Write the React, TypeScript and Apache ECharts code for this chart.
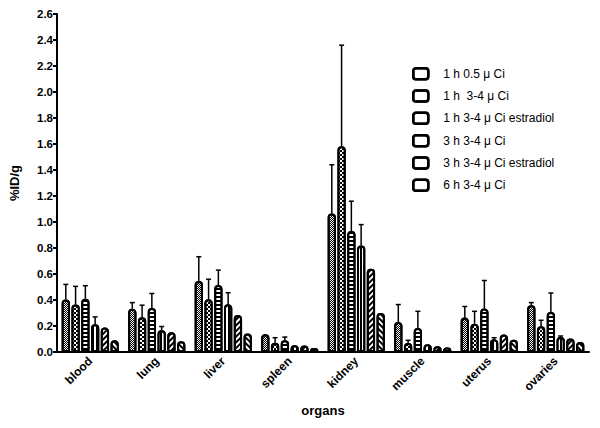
import React, { useEffect, useRef } from "react";
import * as echarts from "echarts";

const categories = ["blood", "lung", "liver", "spleen", "kidney", "muscle", "uterus", "ovaries"];
const seriesNames = [
  "1 h 0.5 μ Ci",
  "1 h  3-4 μ Ci",
  "1 h 3-4 μ Ci estradiol",
  "3 h 3-4 μ Ci",
  "3 h 3-4 μ Ci estradiol",
  "6 h 3-4 μ Ci",
];
const s0 = [0.403, 0.333, 0.546, 0.136, 1.065, 0.23, 0.265, 0.36];
const s1 = [0.365, 0.268, 0.405, 0.072, 1.582, 0.07, 0.218, 0.198];
const s2 = [0.41, 0.338, 0.515, 0.09, 0.93, 0.185, 0.334, 0.308];
const s3 = [0.213, 0.167, 0.367, 0.052, 0.82, 0.06, 0.098, 0.115];
const s4 = [0.188, 0.152, 0.285, 0.05, 0.64, 0.044, 0.134, 0.103];
const s5 = [0.09, 0.082, 0.143, 0.031, 0.3, 0.034, 0.095, 0.077];
// upper end of the error bars (null = none drawn)
const e0 = [0.52, 0.38, 0.733, null, 1.44, 0.365, 0.35, 0.38];
const e1 = [0.505, 0.36, 0.56, 0.11, 2.36, 0.09, 0.313, 0.244];
const e2 = [0.51, 0.45, 0.63, 0.115, 1.16, 0.313, 0.55, 0.454];
const e3 = [0.27, 0.196, 0.456, null, 0.98, null, 0.11, 0.123];
const e4 = [null, null, null, null, null, null, null, null];
const e5 = [null, null, null, null, null, null, null, null];
const yTicks = ["0.0", "0.2", "0.4", "0.6", "0.8", "1.0", "1.2", "1.4", "1.6", "1.8", "2.0", "2.2", "2.4", "2.6"];

const values = [s0, s1, s2, s3, s4, s5];
const errors = [e0, e1, e2, e3, e4, e5];

const CAT_GAP = 0.14;
const BAR_GAP = 0.18;
const FONT = "Liberation Sans, Arial, sans-serif";

const decals: any[] = [
  { symbol: "rect", symbolSize: 1, color: "#000", backgroundColor: "#fff", dashArrayX: [[1, 1], [0, 1, 1, 0]], dashArrayY: [1, 0] },
  { symbol: "rect", symbolSize: 1, color: "#000", backgroundColor: "#fff", dashArrayX: [[2, 2], [0, 2, 2, 0]], dashArrayY: [2, 0] },
  { symbol: "rect", symbolSize: 1, color: "#000", backgroundColor: "#fff", dashArrayX: [1, 0], dashArrayY: [2, 2] },
  { symbol: "rect", symbolSize: 1, color: "#000", backgroundColor: "#fff", dashArrayX: [2, 2], dashArrayY: [1, 0] },
  { symbol: "rect", symbolSize: 1, color: "#000", backgroundColor: "#fff", dashArrayX: [1, 0], dashArrayY: [2, 2], rotation: -Math.PI / 4 },
  { symbol: "rect", symbolSize: 1, color: "#000", backgroundColor: "#fff", dashArrayX: [1, 0], dashArrayY: [2, 2], rotation: Math.PI / 4 },
];

export default function App() {
  const ref = useRef<HTMLDivElement>(null);
  useEffect(() => {
    if (!ref.current) return;
    const chart = echarts.init(ref.current, null, { renderer: "svg" });
    const n = values.length;
    const barSeries = values.map((vals, i) => ({
      name: seriesNames[i],
      type: "bar",
      data: vals,
      barGap: BAR_GAP * 100 + "%",
      barCategoryGap: CAT_GAP * 100 + "%",
      itemStyle: {
        color: "#fff",
        borderColor: "#000",
        borderWidth: 2,
        borderRadius: [3, 3, 0, 0],
        decal: decals[i],
      },
      z: 2,
    }));
    const errSeries = errors.map((errs, i) => ({
      name: "err" + i,
      type: "custom",
      z: 3,
      data: errs
        .map((e, c) => (e == null ? null : [c, values[i][c], e]))
        .filter((d) => d !== null),
      renderItem: (params: any, api: any) => {
        const c = api.value(0);
        const v = api.value(1);
        const e = api.value(2);
        const band = api.size([1, 0])[0];
        const remaining = band * (1 - CAT_GAP);
        const bw = remaining / (n + (n - 1) * BAR_GAP);
        const base = api.coord([c, v]);
        const top = api.coord([c, e]);
        const x = base[0] - remaining / 2 + bw / 2 + i * bw * (1 + BAR_GAP);
        const st = { stroke: "#000", lineWidth: 1.5 };
        return {
          type: "group",
          children: [
            { type: "line", shape: { x1: x, y1: base[1], x2: x, y2: top[1] }, style: st },
            { type: "line", shape: { x1: x - 2.5, y1: top[1], x2: x + 2.5, y2: top[1] }, style: st },
          ],
        };
      },
    }));
    chart.setOption({
      animation: false,
      backgroundColor: "#fff",
      grid: { left: 50, right: 11, top: 14, bottom: 76 },
      legend: {
        data: seriesNames,
        orient: "vertical",
        left: 412,
        top: 67,
        padding: 0,
        itemWidth: 15,
        itemHeight: 11,
        itemGap: 8.8,
        icon: "roundRect",
        itemStyle: {
          color: "#fff",
          borderColor: "#000",
          borderWidth: 2.5,
          decal: { symbol: "rect", symbolSize: 1, color: "rgba(0,0,0,0)", backgroundColor: "rgba(0,0,0,0)" },
        },
        textStyle: { fontFamily: FONT, fontSize: 12, color: "#000", padding: [0, 0, 0, 10] },
      },
      xAxis: {
        type: "category",
        data: categories,
        name: "organs",
        nameLocation: "middle",
        nameGap: 52,
        nameTextStyle: { fontFamily: FONT, fontSize: 13, fontWeight: "bold", color: "#000" },
        axisLine: { lineStyle: { color: "#000", width: 2 } },
        axisTick: { alignWithLabel: true, length: 4, lineStyle: { color: "#000", width: 2 } },
        axisLabel: { rotate: 45, fontFamily: FONT, fontSize: 12, fontWeight: "bold", color: "#000", margin: 7 },
      },
      yAxis: {
        type: "value",
        min: 0,
        max: 2.6,
        interval: 0.2,
        name: "%ID/g",
        nameLocation: "middle",
        nameGap: 36,
        nameTextStyle: { fontFamily: FONT, fontSize: 13, fontWeight: "bold", color: "#000" },
        splitLine: { show: false },
        axisLine: { show: true, lineStyle: { color: "#000", width: 2 } },
        axisTick: { show: true, length: 4, lineStyle: { color: "#000", width: 2 } },
        axisLabel: {
          fontFamily: FONT,
          fontSize: 11.5,
          fontWeight: "bold",
          color: "#000",
          margin: 4,
          formatter: (v: number) => yTicks[Math.round(v / 0.2)] ?? v.toFixed(1),
        },
      },
      series: [...barSeries, ...errSeries],
    });
    return () => chart.dispose();
  }, []);
  return <div ref={ref} style={{ width: 600, height: 428, position: "absolute", left: 0, top: 0 }} />;
}
